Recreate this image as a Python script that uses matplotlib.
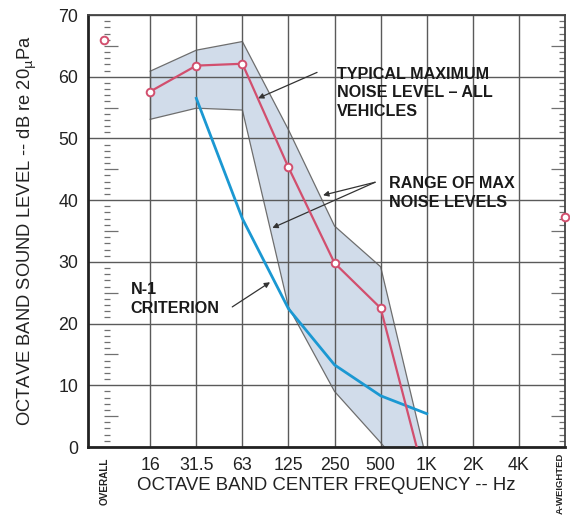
import matplotlib
matplotlib.use("Agg")
import matplotlib.pyplot as plt
from matplotlib.transforms import blended_transform_factory
import numpy as np

plt.rcParams['font.family'] = ['Liberation Sans', 'DejaVu Sans']

# ---------------- data ----------------
band_labels = ['16', '31.5', '63', '125', '250', '500', '1K', '2K', '4K']
band_pos = [1, 2, 3, 4, 5, 6, 7, 8, 9]

# typical maximum noise level (16 .. 1K)
typical_max = [57.6, 61.8, 62.1, 45.3, 29.8, 22.5, -6.3]
range_upper = [60.9, 64.3, 65.7, 51.4, 35.8, 29.2, -2.2]
range_lower = [53.1, 54.9, 54.6, 22.7, 9.0, 0.7, -8.0]
band_x = [1, 2, 3, 4, 5, 6, 7]

# N-1 criterion (31.5 .. 1K)
n1_x = [2, 3, 4, 5, 6, 7]
n1_values = [56.5, 37.0, 22.4, 13.3, 8.3, 5.4]

overall_value = 66.0
a_weighted_value = 37.2
overall_pos = 0
a_weighted_pos = 10

yticks = [0, 10, 20, 30, 40, 50, 60, 70]

# ---------------- style ----------------
pink = '#d24f6e'
blue = '#1b98d2'
fill_c = '#d1dcea'
edge_c = '#6e6e6e'
grid_c = '#5a5a5a'

fig = plt.figure(figsize=(5.70, 5.16), dpi=100)
ax = fig.add_axes([88/570, 1-447/516, (565-88)/570, (447-15)/516])

ax.set_xlim(-0.35, 10)
ax.set_ylim(0, 70)

# band
ax.fill_between(band_x, range_lower, range_upper, facecolor=fill_c,
                edgecolor='none', zorder=1)
ax.plot(band_x, range_upper, color=edge_c, lw=0.9, zorder=1.2)
ax.plot(band_x, range_lower, color=edge_c, lw=0.9, zorder=1.2)
ax.plot([band_x[0], band_x[0]], [range_lower[0], range_upper[0]],
        color=edge_c, lw=0.9, zorder=1.2)

# grid
ax.set_xticks(band_pos)
ax.set_xticklabels(band_labels)
ax.set_yticks(yticks)
ax.grid(True, color=grid_c, lw=1.0)
ax.set_axisbelow('line')

# lines
ax.plot(n1_x, n1_values, color=blue, lw=2.0, zorder=3)
ax.plot(band_x, typical_max, color=pink, lw=1.6, zorder=4)
ax.plot(band_x[:-1], typical_max[:-1], ls='none', marker='o', ms=5.5,
        mfc='white', mec=pink, mew=1.4, zorder=5)
ax.plot([overall_pos], [overall_value], ls='none', marker='o', ms=5.5,
        mfc='white', mec=pink, mew=1.4, zorder=5)
ax.plot([a_weighted_pos], [a_weighted_value], ls='none', marker='o', ms=5.5,
        mfc='white', mec=pink, mew=1.4, zorder=5, clip_on=False)

# ruler scales at OVERALL and A-WEIGHTED
minor = [v for v in range(1, 70) if v % 5 != 0]
major5 = [v for v in range(5, 70, 10)]
ax.plot([overall_pos]*len(minor), minor, ls='none', marker=1, ms=4.5,
        color='#707070', mew=0.9, zorder=2)
ax.plot([overall_pos]*len(major5), major5, ls='none', marker=1, ms=10,
        color='#707070', mew=0.9, zorder=2)
ax.plot([a_weighted_pos]*len(minor), minor, ls='none', marker=0, ms=4.5,
        color='#707070', mew=0.9, zorder=2, clip_on=False)
ax.plot([a_weighted_pos]*len(major5), major5, ls='none', marker=0, ms=10,
        color='#707070', mew=0.9, zorder=2, clip_on=False)

# spines
for s in ['left', 'bottom']:
    ax.spines[s].set_linewidth(2.0)
    ax.spines[s].set_color('#222222')
for s in ['top', 'right']:
    ax.spines[s].set_linewidth(1.3)
    ax.spines[s].set_color('#444444')

ax.tick_params(axis='both', length=0, labelsize=12.8, colors='#222222')
ax.tick_params(axis='x', pad=7)
ax.tick_params(axis='y', pad=7)

ax.set_xlabel('OCTAVE BAND CENTER FREQUENCY -- Hz', fontsize=13.4, labelpad=2,
              color='#222222')
ax.set_ylabel('OCTAVE BAND SOUND LEVEL -- dB re 20$_{\\mathrm{\u00b5}}$Pa',
              fontsize=13.2, labelpad=14, color='#222222')

# rotated end labels
tr = blended_transform_factory(ax.transData, ax.transAxes)
ax.text(overall_pos, -0.025, 'OVERALL', rotation=90, ha='center', va='top',
        fontsize=7.2, fontweight='bold', transform=tr, color='#222222')
ax.text(a_weighted_pos - 0.1, -0.012, 'A-WEIGHTED', rotation=90, ha='center',
        va='top', fontsize=6.8, fontweight='bold',
        transform=tr, color='#222222', clip_on=False)

# annotations
bold = dict(fontsize=11.6, fontweight='bold', color='#1a1a1a', linespacing=1.3)
arrow = dict(arrowstyle='-|>', color='#333333', lw=0.9, mutation_scale=8,
             shrinkA=0, shrinkB=0)

ax.text(5.05, 57.4, 'TYPICAL MAXIMUM\nNOISE LEVEL \u2013 ALL\nVEHICLES',
        ha='left', va='center', **bold)
ax.annotate('', xy=(3.34, 56.5), xytext=(4.62, 60.7), arrowprops=arrow)

ax.text(6.18, 41.2, 'RANGE OF MAX\nNOISE LEVELS', ha='left', va='center',
        **bold)
ax.annotate('', xy=(4.75, 40.8), xytext=(5.88, 42.9), arrowprops=arrow)
ax.annotate('', xy=(3.65, 35.5), xytext=(5.88, 42.9), arrowprops=arrow)

ax.text(0.57, 24.0, 'N-1\nCRITERION', ha='left', va='center', **bold)
ax.annotate('', xy=(3.6, 26.7), xytext=(2.78, 22.7), arrowprops=arrow)

fig.savefig('out.png', dpi=100)
